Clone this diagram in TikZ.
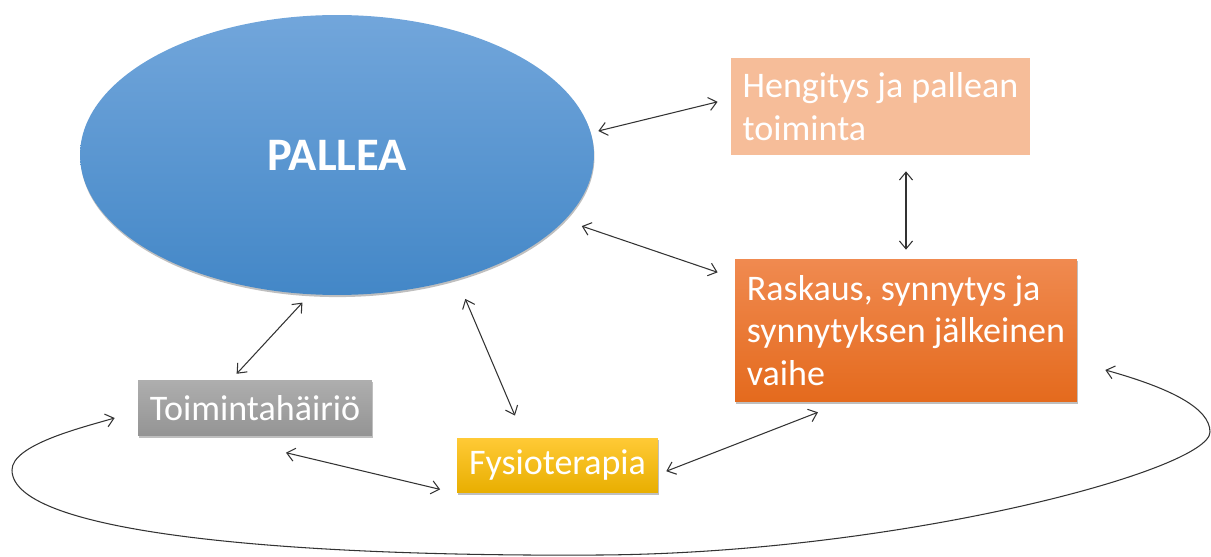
\documentclass[tikz,border=0pt]{standalone}
\usepackage{fontspec}
\setmainfont{Carlito}
\usetikzlibrary{arrows.meta,shapes.geometric,shadows,calc}
\definecolor{ellTop}{HTML}{72A6DB}
\definecolor{ellBot}{HTML}{4387C7}
\definecolor{hengFill}{HTML}{F6BD99}
\definecolor{raskTop}{HTML}{F08A50}
\definecolor{raskBot}{HTML}{E46A1D}
\definecolor{toimTop}{HTML}{AEAEAE}
\definecolor{toimBot}{HTML}{949494}
\definecolor{fysTop}{HTML}{FFCA36}
\definecolor{fysBot}{HTML}{E8AE00}
\definecolor{linkCol}{HTML}{333333}
\tikzset{
  boxtext/.style={text=white, font=\fontsize{20.5}{24.2}\selectfont, align=left, inner sep=0pt},
  softshadow/.style={drop shadow={shadow xshift=0.3pt, shadow yshift=-1.2pt, opacity=0.25, fill=black}},
  link/.style={draw=linkCol, line width=0.6pt,
    {Straight Barb[length=4.5pt,width=7.5pt]}-{Straight Barb[length=4.5pt,width=7.5pt]}},
}
\begin{document}
\begin{tikzpicture}[x=0.02cm,y=-0.02cm]
\useasboundingbox (0,0) rectangle (1211,557);
% nodes
\node[ellipse, minimum width=10.28cm, minimum height=5.6cm, inner sep=0pt,
      top color=ellTop, bottom color=ellBot, softshadow,
      text=white, font=\bfseries\fontsize{26.5}{30}\selectfont] (pallea) at (337,155) {PALLEA};
\node[rectangle, boxtext, fill=hengFill, minimum width=5.98cm, minimum height=1.94cm]
      (heng) at (880.5,106.5) {Hengitys ja pallean\\toiminta};
\node[rectangle, boxtext, top color=raskTop, bottom color=raskBot, softshadow,
      minimum width=6.84cm, minimum height=2.86cm]
      (rask) at (906,330.5) {Raskaus, synnytys ja\\synnytyksen jälkeinen\\vaihe};
\node[rectangle, boxtext, align=center, top color=toimTop, bottom color=toimBot, softshadow,
      minimum width=4.68cm, minimum height=1.12cm]
      (toim) at (255,408) {Toimintahäiriö};
\node[rectangle, boxtext, align=center, top color=fysTop, bottom color=fysBot, softshadow,
      minimum width=4.02cm, minimum height=1.1cm]
      (fysio) at (557.5,465.5) {Fysioterapia};
% connectors
\draw[link, shorten <=0.15cm, shorten >=0.27cm] (pallea.5) -- (heng.177.5);
\draw[link, shorten <=0.32cm, shorten >=0.18cm] (rask.north |- heng.south) -- (rask.north);
\draw[link, shorten <=0.36cm, shorten >=0.36cm] (pallea.-16.5) -- (rask.163.5);
\draw[link, shorten <=0.22cm, shorten >=0.16cm] (pallea.259) -- (toim.130);
\draw[link, shorten <=0.43cm, shorten >=0.48cm] (pallea.-46.5) -- (fysio.140);
\draw[link, shorten <=1.41cm, shorten >=0.34cm] (toim.217.5) -- (fysio.south west);
\draw[link, shorten <=0.17cm, shorten >=0.55cm] (fysio.-5) -- (rask.229);
% big loop
\coordinate (loopR) at ($(rask.east)+(28,39.5)$);
\coordinate (loopL) at ($(toim.west)+(-23,10)$);
\draw[link] (loopR) .. controls (1170,388) and (1210,408) .. (1210,432)
   .. controls (1210,470) and (900,553) .. (600,555)
   .. controls (300,557) and (12,535) .. (12,470)
   .. controls (12,445) and (80,428) .. (loopL);
\end{tikzpicture}
\end{document}
